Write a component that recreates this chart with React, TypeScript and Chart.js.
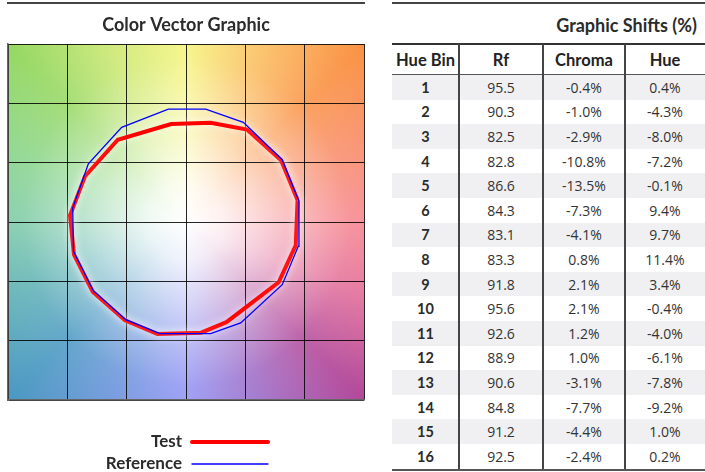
import React, { useEffect, useRef } from "react";
import { Chart, registerables } from "chart.js";

Chart.register(...registerables);

// ---------- Data ----------
const hueBins = [1, 2, 3, 4, 5, 6, 7, 8, 9, 10, 11, 12, 13, 14, 15, 16];
const rfValues = [95.5, 90.3, 82.5, 82.8, 86.6, 84.3, 83.1, 83.3, 91.8, 95.6, 92.6, 88.9, 90.6, 84.8, 91.2, 92.5];
const chromaShifts = [-0.4, -1.0, -2.9, -10.8, -13.5, -7.3, -4.1, 0.8, 2.1, 2.1, 1.2, 1.0, -3.1, -7.7, -4.4, -2.4];
const hueShifts = [0.4, -4.3, -8.0, -7.2, -0.1, 9.4, 9.7, 11.4, 3.4, -0.4, -4.0, -6.1, -7.8, -9.2, 1.0, 0.2];

// Color vector graphic vertices (normalized a', b' coordinates), bins 1..16
const refX = [0.952, 0.811, 0.483, 0.166, -0.149, -0.542, -0.823, -0.955, -0.948, -0.781, -0.508, -0.219, 0.208, 0.461, 0.811, 0.946];
const refY = [0.174, 0.525, 0.840, 0.952, 0.952, 0.798, 0.491, 0.118, -0.247, -0.579, -0.823, -0.941, -0.941, -0.851, -0.528, -0.205];
const testX = [0.940, 0.801, 0.514, 0.208, -0.125, -0.575, -0.851, -0.977, -0.944, -0.786, -0.514, -0.240, 0.128, 0.341, 0.781, 0.925];
const testY = [0.185, 0.520, 0.779, 0.836, 0.826, 0.693, 0.386, 0.056, -0.276, -0.588, -0.829, -0.944, -0.933, -0.844, -0.508, -0.196];

const axisMin = -1.5;
const axisMax = 1.5;
const axisStep = 0.5;

const chartTitle = "Color Vector Graphic";
const tableTitle = "Graphic Shifts (%)";
const tableHeaders = ["Hue Bin", "Rf", "Chroma", "Hue"];

const closedPoly = (xs: number[], ys: number[]) => {
  const pts = xs.map((x, i) => ({ x, y: ys[i] }));
  pts.push({ ...pts[0] });
  return pts;
};

const BOLD_FONT = "Lato, 'Open Sans', sans-serif";
const BODY_FONT = "'Open Sans', 'Noto Sans', sans-serif";

const backgroundPlugin = {
  id: "cvgBackground",
  beforeDraw(chart: any) {
    const { ctx, chartArea } = chart;
    if (!chartArea) return;
    const { left, top, right, bottom } = chartArea;
    const cx = chart.scales.x.getPixelForValue(0);
    const cy = chart.scales.y.getPixelForValue(0);
    ctx.save();
    ctx.beginPath();
    ctx.rect(left, top, right - left, bottom - top);
    ctx.clip();
    const g = ctx.createConicGradient(0, cx, cy);
    // math angle theta -> t = (360 - theta) / 360
    g.addColorStop(0.0, "#f6848e");
    g.addColorStop(0.0625, "#e26c98");
    g.addColorStop(0.125, "#b2489a");
    g.addColorStop(0.1875, "#9c6cc8");
    g.addColorStop(0.25, "#9294f4");
    g.addColorStop(0.3125, "#6a92dc");
    g.addColorStop(0.375, "#4a98c2");
    g.addColorStop(0.4375, "#5cb0b4");
    g.addColorStop(0.5, "#7ccaa6");
    g.addColorStop(0.5625, "#88d488");
    g.addColorStop(0.625, "#96d862");
    g.addColorStop(0.6875, "#cde870");
    g.addColorStop(0.75, "#f6f47c");
    g.addColorStop(0.8125, "#fac060");
    g.addColorStop(0.875, "#fa9244");
    g.addColorStop(0.9375, "#f88a6a");
    g.addColorStop(1.0, "#f6848e");
    ctx.fillStyle = g;
    ctx.fillRect(left, top, right - left, bottom - top);
    const R = Math.hypot(right - cx, bottom - cy);
    const rg = ctx.createRadialGradient(cx, cy, 0, cx, cy, R);
    rg.addColorStop(0, "rgba(255,255,255,1)");
    rg.addColorStop(0.15, "rgba(255,255,255,0.88)");
    rg.addColorStop(0.4, "rgba(255,255,255,0.5)");
    rg.addColorStop(0.65, "rgba(255,255,255,0.15)");
    rg.addColorStop(1, "rgba(255,255,255,0)");
    ctx.fillStyle = rg;
    ctx.fillRect(left, top, right - left, bottom - top);
    ctx.restore();
  },
  beforeDatasetsDraw(chart: any) {
    const ctx = chart.ctx;
    ctx.save();
    ctx.shadowColor = "rgba(255,255,255,0.9)";
    ctx.shadowBlur = 8;
  },
  afterDatasetsDraw(chart: any) {
    chart.ctx.restore();
  },
  afterDraw(chart: any) {
    const { ctx, chartArea } = chart;
    const { left, right, top, bottom } = chartArea;
    const mid = (left + right) / 2;
    ctx.save();
    // top rule
    ctx.strokeStyle = "#444";
    ctx.lineWidth = 2;
    ctx.beginPath();
    ctx.moveTo(left - 1, 3);
    ctx.lineTo(right + 1, 3);
    ctx.stroke();
    // title
    ctx.fillStyle = "#2b2b2b";
    ctx.font = `bold 18px ${BOLD_FONT}`;
    ctx.textAlign = "center";
    ctx.textBaseline = "middle";
    ctx.fillText(chartTitle, mid, top - 19);
    // legend: Test then Reference
    const order = [1, 0];
    ctx.font = `bold 17px ${BOLD_FONT}`;
    ctx.textAlign = "right";
    order.forEach((di, k) => {
      const ds = chart.data.datasets[di];
      const y = bottom + 42 + k * 22;
      ctx.fillStyle = "#2b2b2b";
      ctx.fillText(ds.label, mid - 4, y);
      ctx.strokeStyle = ds.borderColor;
      ctx.lineWidth = ds.borderWidth;
      ctx.lineCap = "round";
      ctx.beginPath();
      ctx.moveTo(mid + 6, y);
      ctx.lineTo(mid + 82, y);
      ctx.stroke();
    });
    ctx.restore();
  },
};

function CvgChart() {
  const ref = useRef<HTMLCanvasElement | null>(null);
  useEffect(() => {
    if (!ref.current) return;
    const chart = new Chart(ref.current, {
      type: "scatter",
      data: {
        datasets: [
          {
            label: "Reference",
            data: closedPoly(refX, refY),
            showLine: true,
            borderColor: "#0000ff",
            borderWidth: 1.3,
            pointRadius: 0,
            fill: false,
            tension: 0,
          },
          {
            label: "Test",
            data: closedPoly(testX, testY),
            showLine: true,
            borderColor: "#ff0000",
            borderWidth: 4,
            pointRadius: 0,
            fill: false,
            tension: 0,
          },
        ],
      },
      options: {
        responsive: false,
        animation: false,
        events: [],
        devicePixelRatio: 1,
        layout: { padding: { left: 8, top: 44, right: 16, bottom: 72 } },
        plugins: {
          legend: { display: false },
          title: { display: false },
          tooltip: { enabled: false },
        },
        scales: {
          x: {
            type: "linear",
            min: axisMin,
            max: axisMax,
            ticks: { display: false, stepSize: axisStep },
            grid: { color: "rgba(0,0,0,0.85)", lineWidth: 1, drawTicks: false },
            border: { display: true, color: "#666", width: 1.5 },
          },
          y: {
            type: "linear",
            min: axisMin,
            max: axisMax,
            ticks: { display: false, stepSize: axisStep },
            grid: { color: "rgba(0,0,0,0.85)", lineWidth: 1, drawTicks: false },
            border: { display: true, color: "#666", width: 1.5 },
          },
        },
      },
      plugins: [backgroundPlugin],
    } as any);
    return () => chart.destroy();
  }, []);
  return (
    <canvas
      ref={ref}
      width={380}
      height={472}
      style={{ position: "absolute", left: 0, top: 0, width: 380, height: 472 }}
    />
  );
}

const fmtPct = (v: number) => `${v.toFixed(1)}%`;

function ShiftTable() {
  const left = 392;
  const width = 313;
  const colX = [0, 67, 151, 233, 313];
  const headerTop = 44;
  const rowsTop = 75;
  const rowH = 24.6;
  const tableBottom = rowsTop + rowH * hueBins.length;
  const cell = (x0: number, x1: number, top: number, h: number, content: React.ReactNode, style: any, key: string) => (
    <div
      key={key}
      style={{
        position: "absolute",
        left: x0,
        width: x1 - x0,
        top,
        height: h,
        display: "flex",
        alignItems: "center",
        justifyContent: "center",
        ...style,
      }}
    >
      {content}
    </div>
  );
  return (
    <div style={{ position: "absolute", left, top: 0, width, height: 472 }}>
      <div style={{ position: "absolute", left: 0, top: 2, width, height: 2, background: "#444" }} />
      <div
        style={{
          position: "absolute",
          right: 8,
          top: 14,
          height: 22,
          lineHeight: "22px",
          font: `bold 18px ${BOLD_FONT}`,
          color: "#2b2b2b",
          whiteSpace: "nowrap",
        }}
      >
        {tableTitle}
      </div>
      {hueBins.map((b, i) =>
        i % 2 === 0 ? (
          <div
            key={"stripe" + i}
            style={{ position: "absolute", left: 0, width, top: rowsTop + i * rowH, height: rowH, background: "#f0f0f2" }}
          />
        ) : null
      )}
      <div style={{ position: "absolute", left: 0, top: headerTop - 1, width, height: 2, background: "#333" }} />
      <div style={{ position: "absolute", left: 0, top: rowsTop - 1.5, width, height: 1.5, background: "#555" }} />
      <div style={{ position: "absolute", left: 0, top: tableBottom, width, height: 2, background: "#555" }} />
      {[1, 2, 3].map((c) => (
        <div
          key={"v" + c}
          style={{
            position: "absolute",
            left: colX[c] - 0.75,
            top: headerTop,
            width: 1.5,
            height: tableBottom - headerTop,
            background: "#444",
          }}
        />
      ))}
      {tableHeaders.map((h, c) =>
        cell(colX[c], colX[c + 1], headerTop + 1, rowsTop - headerTop - 2, h, { font: `bold 16.5px ${BOLD_FONT}`, color: "#222" }, "h" + c)
      )}
      {hueBins.map((b, i) => {
        const top = rowsTop + i * rowH;
        return (
          <React.Fragment key={"r" + i}>
            {cell(colX[0], colX[1], top, rowH, String(b), { font: `bold 14.5px ${BOLD_FONT}`, color: "#2b2b2b" }, "c0")}
            {cell(colX[1], colX[2], top, rowH, rfValues[i].toFixed(1), { font: `14px ${BODY_FONT}`, color: "#333" }, "c1")}
            {cell(colX[2], colX[3], top, rowH, fmtPct(chromaShifts[i]), { font: `14px ${BODY_FONT}`, color: "#333" }, "c2")}
            {cell(colX[3], colX[4], top, rowH, fmtPct(hueShifts[i]), { font: `14px ${BODY_FONT}`, color: "#333" }, "c3")}
          </React.Fragment>
        );
      })}
    </div>
  );
}

export default function App() {
  return (
    <div style={{ position: "absolute", left: 0, top: 0, width: 705, height: 472, background: "#fff", overflow: "hidden" }}>
      <CvgChart />
      <ShiftTable />
    </div>
  );
}
